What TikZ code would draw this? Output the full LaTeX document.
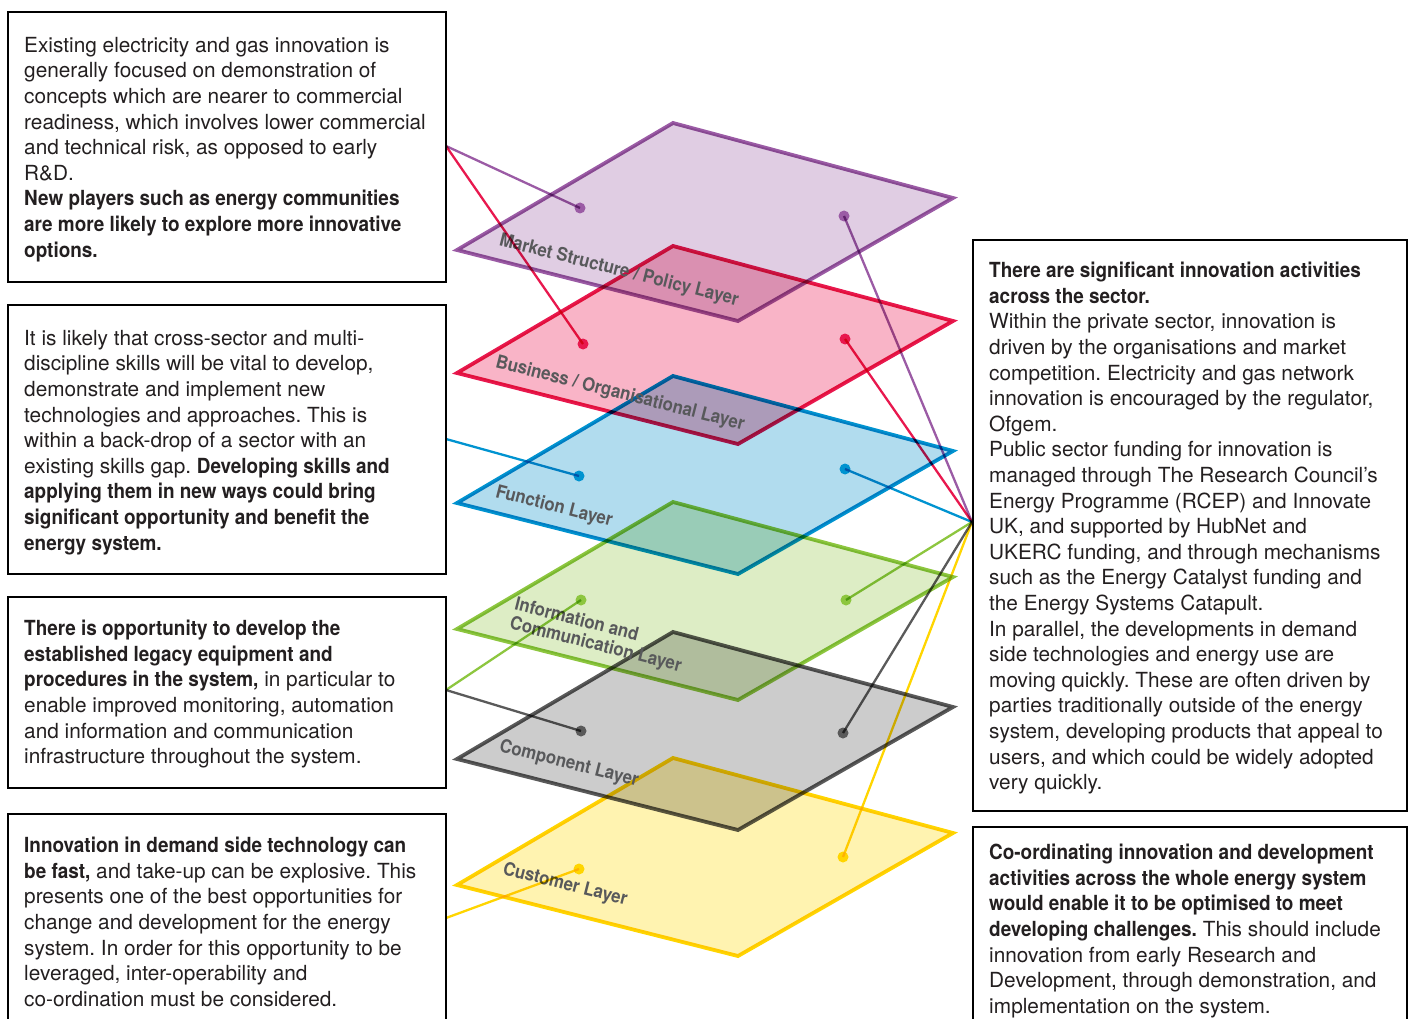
\documentclass[tikz,border=0pt]{standalone}
\usepackage{fontspec}
\setmainfont{TeX Gyre Heros}[BoldFeatures={FakeStretch=0.91}]
\frenchspacing
\definecolor{mktline}{HTML}{9B5BA5}\definecolor{mktfill}{HTML}{E0CDE3}
\definecolor{busline}{HTML}{E8184E}\definecolor{busfill}{HTML}{F9B4C7}
\definecolor{funline}{HTML}{0093D0}\definecolor{funfill}{HTML}{B1DCEE}
\definecolor{ictline}{HTML}{8DC63F}\definecolor{ictfill}{HTML}{DDEDC5}
\definecolor{cmpline}{HTML}{5A5A5A}\definecolor{cmpfill}{HTML}{CCCCCC}
\definecolor{cusline}{HTML}{FFD500}\definecolor{cusfill}{HTML}{FFF3B0}
\definecolor{labelgrey}{HTML}{58595B}
\definecolor{bodyink}{HTML}{231F20}
\begin{document}
\begin{tikzpicture}[x=1pt,y=-1pt,
  infobox/.style={draw=black, line width=2.4pt, anchor=north west, inner sep=0pt},
  bodytext/.style={anchor=north west, inner sep=0pt, align=left, text=bodyink,
    font=\fontsize{20.8}{25.6}\selectfont},
  layerlabel/.style={text=labelgrey, inner sep=0pt, align=left,
    font=\fontsize{18.5}{19.5}\selectfont\bfseries, rotate=-14.2},
  dot/.style={circle, inner sep=0pt, minimum size=11pt},
  conn/.style={line width=2.3pt},
  plane/.style={line width=3.8pt, line join=miter}]
\useasboundingbox (0,0) rectangle (1413,1019);

% stacked layer planes (top corner at x=673)
\begin{scope}[blend mode=multiply]
  \foreach \t/\c in {123/mkt,246/bus,376/fun,502/ict,632/cmp,758/cus}
    \fill[\c fill] (673,\t) -- ++(280,75) -- ++(-215,123) -- ++(-281,-71) -- cycle;
  \foreach \t/\c in {123/mkt,246/bus,376/fun,502/ict,632/cmp,758/cus}
    \draw[plane, draw=\c line] (673,\t) -- ++(280,75) -- ++(-215,123) -- ++(-281,-71) -- cycle;
\end{scope}

% layer names
\node[layerlabel] (lmkt) at (619,271) {Market Structure / Policy Layer};
\node[layerlabel] (lbus) at (620,394) {Business / Organisational Layer};
\node[layerlabel] (lfun) at (554,507) {Function Layer};
\node[layerlabel] (lict) at (598,636) {Information and\\Communication Layer};
\node[layerlabel] (lcmp) at (569,764) {Component Layer};
\node[layerlabel] (lcus) at (565,885) {Customer Layer};

% text boxes
\node[infobox, minimum width=438pt, minimum height=270pt] (b1) at (7,11) {};
\node[infobox, minimum width=438pt, minimum height=269pt] (b2) at (7,304) {};
\node[infobox, minimum width=438pt, minimum height=191pt] (b3) at (7,596) {};
\node[infobox, minimum width=438pt, minimum height=230pt] (b4) at (7,813) {};
\node[infobox, minimum width=434pt, minimum height=571pt] (r1) at (972,239) {};
\node[infobox, minimum width=434pt, minimum height=220pt] (r2) at (972,826) {};

\node[bodytext] (t1) at (24,37) {Existing electricity and gas innovation is\\
generally focused on demonstration of\\
concepts which are nearer to commercial\\
readiness, which involves lower commercial\\
and technical risk, as opposed to early\\
R\&D.\\
\textbf{New players such as energy communities}\\
\textbf{are more likely to explore more innovative}\\
\textbf{options.}};

\node[bodytext] (t2) at (24,330) {It is likely that cross-sector and multi-\\
discipline skills will be vital to develop,\\
demonstrate and implement new\\
technologies and approaches. This is\\
within a back-drop of a sector with an\\
existing skills gap. \textbf{Developing skills and}\\
\textbf{applying them in new ways could bring}\\
\textbf{significant opportunity and benefit the}\\
\textbf{energy system.}};

\node[bodytext] (t3) at (24,620) {\textbf{There is opportunity to develop the}\\
\textbf{established legacy equipment and}\\
\textbf{procedures in the system,} in particular to\\
enable improved monitoring, automation\\
and information and communication\\
infrastructure throughout the system.};

\node[bodytext] (t4) at (24,837) {\textbf{Innovation in demand side technology can}\\
\textbf{be fast,} and take-up can be explosive. This\\
presents one of the best opportunities for\\
change and development for the energy\\
system. In order for this opportunity to be\\
leveraged, inter-operability and\\
co-ordination must be considered.};

\node[bodytext] (t5) at (989,262) {\textbf{There are significant innovation activities}\\
\textbf{across the sector.}\\
Within the private sector, innovation is\\
driven by the organisations and market\\
competition. Electricity and gas network\\
innovation is encouraged by the regulator,\\
Ofgem.\\
Public sector funding for innovation is\\
managed through The Research Council’s\\
Energy Programme (RCEP) and Innovate\\
UK, and supported by HubNet and\\
UKERC funding, and through mechanisms\\
such as the Energy Catalyst funding and\\
the Energy Systems Catapult.\\
In parallel, the developments in demand\\
side technologies and energy use are\\
moving quickly. These are often driven by\\
parties traditionally outside of the energy\\
system, developing products that appeal to\\
users, and which could be widely adopted\\
very quickly.};

\node[bodytext] (t6) at (989,844) {\textbf{Co-ordinating innovation and development}\\
\textbf{activities across the whole energy system}\\
\textbf{would enable it to be optimised to meet}\\
\textbf{developing challenges.} This should include\\
innovation from early Research and\\
Development, through demonstration, and\\
implementation on the system.};

% connector end points on the box edges
\coordinate (j1) at (446,146);
\coordinate (j2) at (446,439);
\coordinate (j3) at (446,690);
\coordinate (j4) at (446,918);
\coordinate (hub) at (972,522);

% anchor dots on the planes
\node[dot, fill=mktline] (mktL) at (580,208) {};
\node[dot, fill=mktline] (mktR) at (844,216) {};
\node[dot, fill=busline] (busL) at (583,344) {};
\node[dot, fill=busline] (busR) at (845,339) {};
\node[dot, fill=funline] (funL) at (579,476) {};
\node[dot, fill=funline] (funR) at (845,469) {};
\node[dot, fill=ictline] (ictL) at (581,600) {};
\node[dot, fill=ictline] (ictR) at (846,600) {};
\node[dot, fill=cmpline] (cmpL) at (581,731) {};
\node[dot, fill=cmpline] (cmpR) at (843,733) {};
\node[dot, fill=cusline] (cusL) at (579,869) {};
\node[dot, fill=cusline] (cusR) at (843,857) {};

% connectors
\begin{scope}[blend mode=multiply]
\draw[conn, mktline] (j1) -- (mktL.center);
\draw[conn, busline] (j1) -- (busL.center);
\draw[conn, funline] (j2) -- (funL.center);
\draw[conn, ictline] (j3) -- (ictL.center);
\draw[conn, cmpline] (j3) -- (cmpL.center);
\draw[conn, cusline] (j4) -- (cusL.center);
\draw[conn, mktline] (hub) -- (mktR.center);
\draw[conn, busline] (hub) -- (busR.center);
\draw[conn, funline] (hub) -- (funR.center);
\draw[conn, ictline] (hub) -- (ictR.center);
\draw[conn, cmpline] (hub) -- (cmpR.center);
\draw[conn, cusline] (hub) -- (cusR.center);
\end{scope}
\end{tikzpicture}
\end{document}
